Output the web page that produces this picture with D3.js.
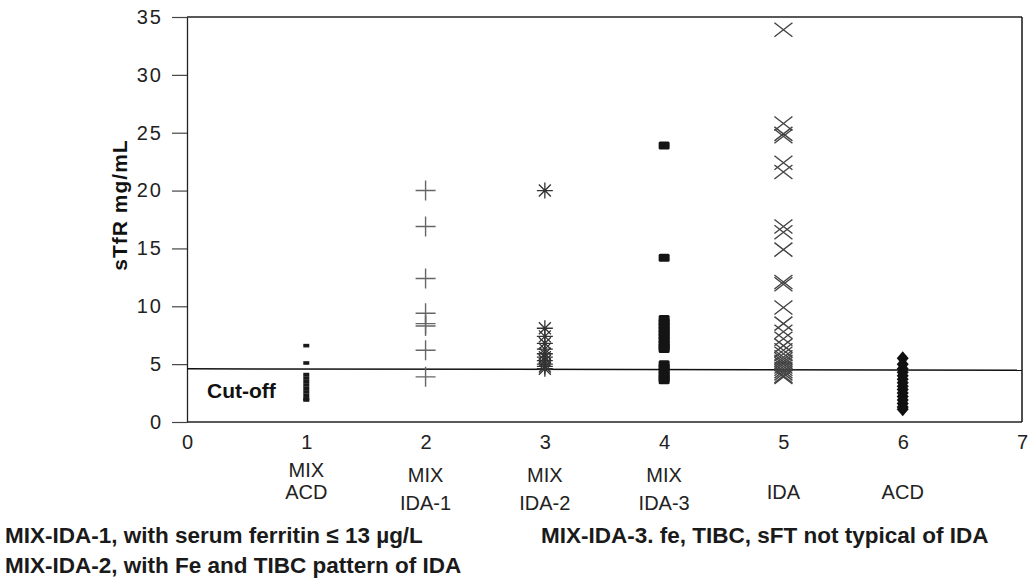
<!DOCTYPE html>
<html>
<head>
<meta charset="utf-8">
<script src="https://cdn.jsdelivr.net/npm/d3@7"></script>
<style>
  html, body { margin: 0; padding: 0; background: #fff; }
  svg { display: block; }
</style>
</head>
<body>
<svg id="chart" width="1028" height="581"></svg>
<script>
// ---- data ----
const xTicks = [0, 1, 2, 3, 4, 5, 6, 7];
const yTicks = [0, 5, 10, 15, 20, 25, 30, 35];
const categoryPos = [1, 2, 3, 4, 5, 6];
const categoryLabels = [["MIX", "ACD"], ["MIX", "IDA-1"], ["MIX", "IDA-2"], ["MIX", "IDA-3"], ["IDA"], ["ACD"]];
const mixAcd  = [6.6, 5.1, 4.1, 3.8, 3.5, 3.2, 2.9, 2.6, 2.3, 2.0, 1.9];
const mixIda1 = [20.0, 16.9, 12.4, 9.4, 8.5, 8.3, 6.2, 3.9];
const mixIda2 = [20.0, 8.1, 7.4, 6.8, 6.3, 5.9, 5.6, 5.3, 5.0, 4.8, 4.6];
const mixIda3 = [23.9, 14.2, 8.9, 8.6, 8.3, 8.0, 7.7, 7.4, 7.1, 6.8, 6.5, 6.3, 5.0, 4.7, 4.4, 4.1, 3.8, 3.6];
const ida     = [33.9, 25.8, 24.9, 24.7, 22.4, 21.6, 16.9, 16.4, 14.9, 12.1, 11.9, 9.9, 8.5, 7.8, 7.2, 6.6, 6.2, 5.9, 5.6, 5.4, 5.2, 5.0, 4.8, 4.6, 4.4, 4.2, 4.0, 3.9];
const acd     = [5.5, 5.0, 4.6, 4.3, 4.0, 3.7, 3.4, 3.1, 2.8, 2.5, 2.2, 1.9, 1.6, 1.3, 1.1];
const cutOff = 4.6;
const yTitle = "sTfR mg/mL";
const notes = [
  {text: "MIX-IDA-1, with serum ferritin \u2264 13 \u00b5g/L", col: 0, row: 0},
  {text: "MIX-IDA-2, with Fe and TIBC pattern of IDA", col: 0, row: 1},
  {text: "MIX-IDA-3. fe, TIBC, sFT not typical of IDA", col: 1, row: 0}
];

// ---- layout ----
const svg = d3.select("#chart");
const x = d3.scaleLinear().domain([0, 7]).range([187, 1022]);
const y = d3.scaleLinear().domain([0, 35]).range([422, 17]);
const font = "Arial, 'Liberation Sans', Helvetica, sans-serif";

// frame
const frame = svg.append("g").attr("fill", "none").attr("stroke", "#222");
frame.append("line").attr("x1", x(0)).attr("x2", x(7)).attr("y1", y(35)).attr("y2", y(35)).attr("stroke-width", 1.4);
frame.append("line").attr("x1", x(7)).attr("x2", x(7)).attr("y1", y(35)).attr("y2", y(0)).attr("stroke-width", 1.6);
frame.append("line").attr("x1", x(0)).attr("x2", x(7)).attr("y1", y(0)).attr("y2", y(0)).attr("stroke-width", 1.4);

// y axis
const yAxis = svg.append("g").attr("transform", `translate(${x(0)},0)`)
  .call(d3.axisLeft(y).tickValues(yTicks).tickFormat(d3.format("d")).tickSize(15).tickPadding(9).tickSizeOuter(0));
yAxis.select(".domain").attr("stroke", "#222").attr("stroke-width", 1.3);
yAxis.selectAll(".tick line").attr("stroke", "#444").attr("stroke-width", 1.2);
yAxis.selectAll(".tick text").attr("font-family", font).attr("font-size", 20)
  .attr("letter-spacing", 2).attr("fill", "#222");

// x axis labels (no tick marks)
const xAxis = svg.append("g").attr("transform", `translate(0,${y(0)})`)
  .call(d3.axisBottom(x).tickValues(xTicks).tickFormat(d3.format("d")).tickSize(0).tickPadding(13));
xAxis.select(".domain").remove();
xAxis.selectAll(".tick text").attr("font-family", font).attr("font-size", 20).attr("fill", "#222");

// category labels
categoryPos.forEach((c, i) => {
  const lines = categoryLabels[i];
  const baseY = lines.length === 2 ? (i === 0 ? 477 : 482) : 499;
  const step = i === 0 ? 22 : 28;
  lines.forEach((t, j) => {
    svg.append("text").attr("x", x(c)).attr("y", baseY + j * step)
      .attr("text-anchor", "middle").attr("font-family", font).attr("font-size", 20)
      .attr("fill", "#222").text(t);
  });
});

// y title
svg.append("text").attr("transform", `translate(127,205) rotate(-90)`)
  .attr("text-anchor", "middle").attr("font-family", font).attr("font-weight", "bold")
  .attr("font-size", 21).attr("letter-spacing", 1).attr("fill", "#111").text(yTitle);

// cut-off line
svg.append("line").attr("x1", x(0)).attr("x2", x(7)).attr("y1", y(cutOff)).attr("y2", y(cutOff) + 1.5)
  .attr("stroke", "#111").attr("stroke-width", 1.5);
svg.append("text").attr("x", 207).attr("y", 398).attr("font-family", font).attr("font-weight", "bold")
  .attr("font-size", 21).attr("fill", "#111").text("Cut-off");

// ---- markers ----
const g = svg.append("g");
function place(sel, cx) { return sel.attr("transform", d => `translate(${x(cx)},${y(d)})`); }

// 1: small filled dashes
place(g.selectAll(".m1").data(mixAcd).join("rect").attr("class", "m1"), 1)
  .attr("x", -3).attr("y", -1.8).attr("width", 6).attr("height", 3.6).attr("fill", "#1a1a1a");

// 2: plus signs
place(g.selectAll(".m2").data(mixIda1).join("path").attr("class", "m2"), 2)
  .attr("d", "M-10,0H10M0,-10V10").attr("stroke", "#666").attr("stroke-width", 1.4).attr("fill", "none");

// 3: asterisks
place(g.selectAll(".m3").data(mixIda2).join("path").attr("class", "m3"), 3)
  .attr("d", "M-8,0H8M0,-8V8M-6,-6L6,6M-6,6L6,-6").attr("stroke", "#333").attr("stroke-width", 1.3).attr("fill", "none");

// 4: filled squares
place(g.selectAll(".m4").data(mixIda3).join("rect").attr("class", "m4"), 4)
  .attr("x", -5.5).attr("y", -4).attr("width", 11).attr("height", 8).attr("rx", 1.5).attr("fill", "#141414");

// 5: X marks
place(g.selectAll(".m5").data(ida).join("path").attr("class", "m5"), 5)
  .attr("d", "M-9,-7L9,7M-9,7L9,-7").attr("stroke", "#444").attr("stroke-width", 1.4).attr("fill", "none");

// 6: filled diamonds
place(g.selectAll(".m6").data(acd).join("path").attr("class", "m6"), 6)
  .attr("d", "M0,-7L6,0L0,7L-6,0Z").attr("fill", "#111");

// footnotes
notes.forEach(n => {
  svg.append("text").attr("x", n.col === 0 ? 5 : 541).attr("y", 543 + n.row * 30)
    .attr("font-family", font).attr("font-weight", "bold").attr("font-size", 22.5)
    .attr("fill", "#1a1a1a").text(n.text);
});
</script>
</body>
</html>
